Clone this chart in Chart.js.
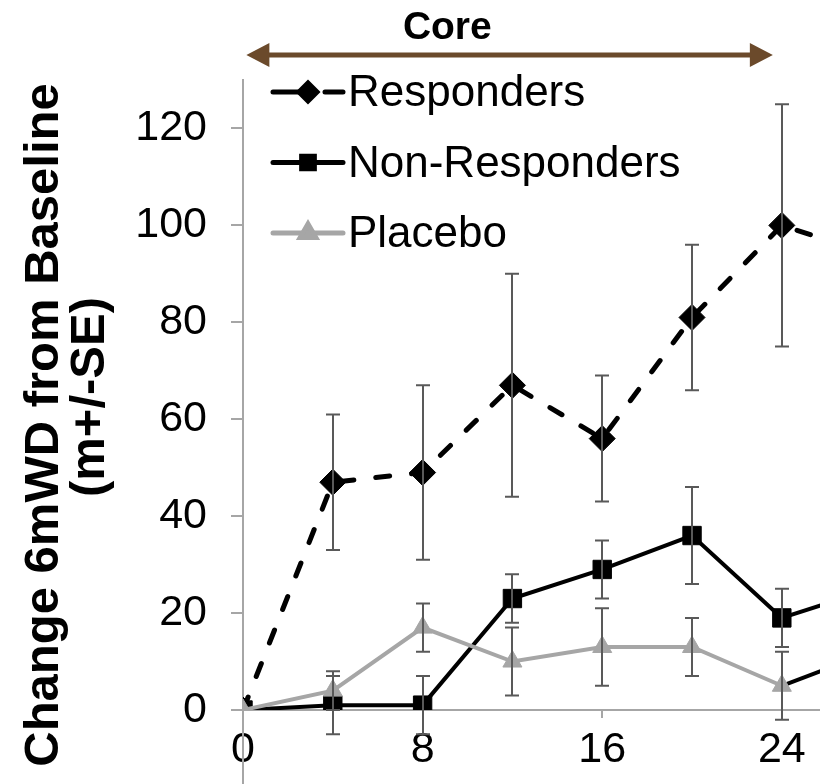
<!DOCTYPE html>
<html>
<head>
<meta charset="utf-8">
<script src="https://cdn.jsdelivr.net/npm/chart.js@4.4.1/dist/chart.umd.min.js"></script>
<style>
  html, body { margin: 0; padding: 0; background: #fff; }
  #wrap { width: 820px; height: 784px; }
</style>
</head>
<body>
<div id="wrap"><canvas id="chart" width="820" height="784"></canvas></div>
<script>
// --- DATA ---
const weeks = [0, 4, 8, 12, 16, 20, 24];
const extWeeks = [24, 28];
const xTicks = [0, 8, 16, 24];
const yTicks = [0, 20, 40, 60, 80, 100, 120];

const responders = [0, 47, 49, 67, 56, 81, 100];
const respondersSE = [0, 14, 18, 23, 13, 15, 25];
const nonResponders = [0, 1, 1, 23, 29, 36, 19];
const nonRespondersSE = [0, 6, 6, 5, 6, 10, 6];
const placebo = [0, 4, 17, 10, 13, 13, 5];
const placeboSE = [0, 4, 5, 7, 8, 6, 7];

// extension phase, cut off at the right edge
const respondersExt = [100, 94];
const nonRespondersExt = [19, 25];
const placeboExt = [5, 12];

const FONT = '"Liberation Sans", Arial, sans-serif';
const AXIS = '#a6a6a6';
const GREY = '#a6a6a6';

const pts = (xs, ys) => xs.map((x, i) => ({ x: x, y: ys[i] }));

// --- PLUGINS ---
const errorBars = {
    id: 'errorBars',
    afterDatasetsDraw(chart) {
        const { ctx, scales: { x, y } } = chart;
        ctx.save();
        ctx.strokeStyle = '#595959';
        ctx.lineWidth = 2;
        chart.data.datasets.forEach(ds => {
            if (!ds.se) return;
            ds.data.forEach((p, i) => {
                const e = ds.se[i];
                if (!e) return;
                const px = Math.round(x.getPixelForValue(p.x));
                const top = y.getPixelForValue(p.y + e);
                const bot = y.getPixelForValue(p.y - e);
                ctx.beginPath();
                ctx.moveTo(px, top); ctx.lineTo(px, bot);
                ctx.moveTo(px - 7, top); ctx.lineTo(px + 7, top);
                ctx.moveTo(px - 7, bot); ctx.lineTo(px + 7, bot);
                ctx.stroke();
            });
        });
        ctx.restore();
    }
};

const decorations = {
    id: 'decorations',
    afterDraw(chart) {
        const { ctx, chartArea, scales: { x } } = chart;
        ctx.save();

        // y axis runs on below the x axis
        ctx.strokeStyle = AXIS;
        ctx.lineWidth = 2;
        ctx.beginPath();
        ctx.moveTo(chartArea.left, chartArea.bottom);
        ctx.lineTo(chartArea.left, chart.height);
        ctx.stroke();

        // Core phase arrow
        const brown = '#6b4a2b';
        const ax0 = x.getPixelForValue(0.15), ax1 = x.getPixelForValue(23.6), ay = 55;
        ctx.strokeStyle = brown;
        ctx.fillStyle = brown;
        ctx.lineWidth = 5;
        ctx.beginPath();
        ctx.moveTo(ax0 + 15, ay); ctx.lineTo(ax1 - 15, ay);
        ctx.stroke();
        ctx.beginPath();
        ctx.moveTo(ax0, ay); ctx.lineTo(ax0 + 23, ay - 12); ctx.lineTo(ax0 + 23, ay + 12); ctx.closePath();
        ctx.moveTo(ax1, ay); ctx.lineTo(ax1 - 23, ay - 12); ctx.lineTo(ax1 - 23, ay + 12); ctx.closePath();
        ctx.fill();
        ctx.fillStyle = '#000';
        ctx.font = 'bold 39px ' + FONT;
        ctx.textAlign = 'center';
        ctx.textBaseline = 'middle';
        ctx.fillText('Core', x.getPixelForValue(9.1), 28);

        // y axis title (two lines, not sharing a centre)
        ctx.font = 'bold 49px ' + FONT;
        ctx.save();
        ctx.translate(44, 425);
        ctx.rotate(-Math.PI / 2);
        ctx.fillText('Change 6mWD from Baseline', 0, 0);
        ctx.restore();
        ctx.save();
        ctx.translate(90, 397);
        ctx.rotate(-Math.PI / 2);
        ctx.fillText('(m+/-SE)', 0, 0);
        ctx.restore();

        // legend
        const lx = chartArea.left + 30, lw = 70;
        chart.data.datasets.filter(ds => !ds.hideLegend).forEach((ds, i) => {
            const ly = chartArea.top + 12 + i * 70.5;
            const mx = lx + 35;
            ctx.strokeStyle = ds.borderColor;
            ctx.fillStyle = ds.borderColor;
            ctx.lineWidth = 5;
            ctx.lineCap = 'round';
            ctx.beginPath();
            if (ds.borderDash) {
                ctx.moveTo(lx, ly); ctx.lineTo(lx + 27, ly);
                ctx.moveTo(lx + 52, ly); ctx.lineTo(lx + lw, ly);
            } else {
                ctx.moveTo(lx, ly); ctx.lineTo(lx + lw, ly);
            }
            ctx.stroke();
            Chart.helpers.drawPoint(ctx, { pointStyle: ds.pointStyle, radius: 9, rotation: 0, borderWidth: 1 }, mx, ly);
            ctx.fillStyle = '#000';
            ctx.font = '44px ' + FONT;
            ctx.textAlign = 'left';
            ctx.textBaseline = 'middle';
            ctx.fillText(ds.label, lx + lw + 5, ly + 2);
        });

        ctx.restore();
    }
};

// --- CHART ---
new Chart(document.getElementById('chart'), {
    type: 'line',
    data: {
        datasets: [
            {
                label: 'Responders', data: pts(weeks, responders), se: respondersSE,
                borderColor: '#000', backgroundColor: '#000', borderWidth: 5,
                borderDash: [14, 22], borderCapStyle: 'round',
                pointStyle: 'rectRot', pointRadius: 13, pointBorderWidth: 1, order: 2
            },
            {
                label: 'Non-Responders', data: pts(weeks, nonResponders), se: nonRespondersSE,
                borderColor: '#000', backgroundColor: '#000', borderWidth: 4,
                pointStyle: 'rect', pointRadius: 13, pointBorderWidth: 1, order: 3
            },
            {
                label: 'Placebo', data: pts(weeks, placebo), se: placeboSE,
                borderColor: GREY, backgroundColor: GREY, borderWidth: 4,
                pointStyle: 'triangle', pointRadius: 11, pointBorderWidth: 1, order: 1
            },
            {
                label: '_respExt', hideLegend: true, data: pts(extWeeks, respondersExt),
                borderColor: '#000', borderWidth: 5, borderDash: [14, 22], borderDashOffset: 20,
                borderCapStyle: 'round', pointRadius: 0, order: 4
            },
            {
                label: '_nonRespExt', hideLegend: true, data: pts(extWeeks, nonRespondersExt),
                borderColor: '#000', borderWidth: 4, pointRadius: 0, order: 4
            },
            {
                label: '_placeboExt', hideLegend: true, data: pts(extWeeks, placeboExt),
                borderColor: '#000', borderWidth: 4, pointRadius: 0, order: 4
            }
        ]
    },
    options: {
        responsive: false,
        animation: false,
        layout: { autoPadding: false, padding: { top: 80, left: 0, right: 0, bottom: 0 } },
        plugins: { legend: { display: false }, tooltip: { enabled: false } },
        elements: { line: { tension: 0 } },
        scales: {
            x: {
                type: 'linear', min: 0, max: 25.7,
                afterBuildTicks: s => { s.ticks = xTicks.map(v => ({ value: v })); },
                afterFit: s => { s.height = 74; s.paddingLeft = 0; s.paddingRight = 0; },
                ticks: { color: '#000', font: { family: FONT, size: 43 }, padding: 6, maxRotation: 0 },
                grid: { drawOnChartArea: false, tickLength: 8, color: AXIS, lineWidth: 2 },
                border: { color: AXIS, width: 2 }
            },
            y: {
                min: 0, max: 130,
                afterBuildTicks: s => { s.ticks = yTicks.map(v => ({ value: v })); },
                afterFit: s => { s.width = 243; },
                ticks: { color: '#000', font: { family: FONT, size: 43 }, padding: 24 },
                grid: { drawOnChartArea: false, tickLength: 12, color: AXIS, lineWidth: 2 },
                border: { color: AXIS, width: 2 }
            }
        }
    },
    plugins: [errorBars, decorations]
});
</script>
</body>
</html>
